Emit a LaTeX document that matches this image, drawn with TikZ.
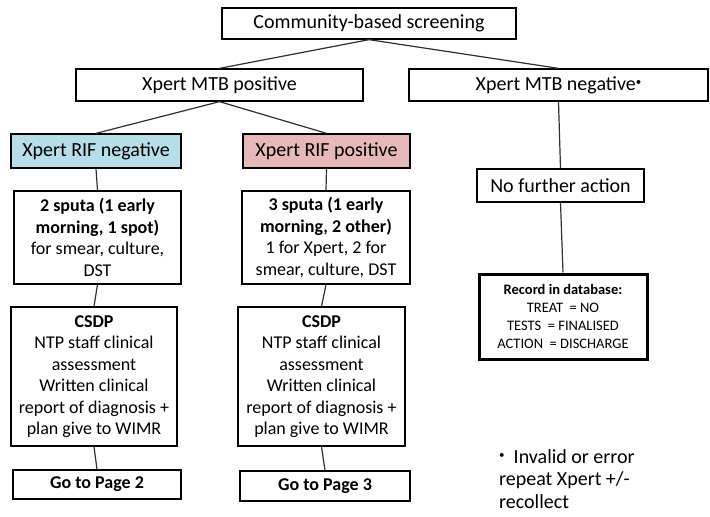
\documentclass[tikz,border=0pt]{standalone}
\usepackage{fontspec}
\setmainfont{Carlito}
\definecolor{rifneg}{HTML}{B7DEE8}
\definecolor{rifpos}{HTML}{E6B9B8}
\definecolor{edge}{HTML}{303030}
\newcommand{\smalldot}{{\fontsize{11}{11}\selectfont\raisebox{5pt}{•}}}
\begin{document}
\begin{tikzpicture}[x=1pt,y=-1pt,
  box/.style={draw=black, line width=1.3pt, inner sep=0pt, align=center, font=\fontsize{20}{24}\selectfont},
  midbox/.style={box, font=\fontsize{18}{21.5}\selectfont},
  recbox/.style={box, line width=3pt, font=\fontsize{14.5}{18}\selectfont},
  conn/.style={draw=edge, line width=1.2pt}]
\useasboundingbox (0,0) rectangle (710,517);

\node[box, minimum width=294pt, minimum height=31pt] (comm) at (369,23.5) {Community-based screening};
\node[box, minimum width=287pt, minimum height=32pt] (mtbp) at (219.5,85) {Xpert MTB positive};
\node[box, minimum width=299pt, minimum height=32pt] (mtbn) at (558.5,85) {Xpert MTB negative\smalldot};

\node[box, fill=rifneg, minimum width=170pt, minimum height=34pt] (rifn) at (96,151) {Xpert RIF negative};
\node[box, fill=rifpos, minimum width=167pt, minimum height=34pt] (rifp) at (326.5,151) {Xpert RIF positive};

\node[midbox, minimum width=167pt, minimum height=93pt] (sputn) at (97.5,237.5)
  {\textbf{2 sputa (1 early}\\\textbf{morning, 1 spot)}\\for smear, culture,\\DST};
\node[midbox, minimum width=168pt, minimum height=93pt] (sputp) at (326,237.5)
  {\textbf{3 sputa (1 early}\\\textbf{morning, 2 other)}\\1 for Xpert, 2 for\\smear, culture, DST};

\node[midbox, minimum width=166pt, minimum height=139pt] (csdpn) at (94,376.5)
  {\textbf{CSDP}\\NTP staff clinical\\assessment\\Written clinical\\report of diagnosis +\\plan give to WIMR};
\node[midbox, minimum width=167pt, minimum height=139pt] (csdpp) at (321.5,376.5)
  {\textbf{CSDP}\\NTP staff clinical\\assessment\\Written clinical\\report of diagnosis +\\plan give to WIMR};

\node[midbox, minimum width=168pt, minimum height=29pt] (go2) at (97,484.5) {\textbf{Go to Page 2}};
\node[midbox, minimum width=170pt, minimum height=30pt] (go3) at (325,486) {\textbf{Go to Page 3}};

\node[box, minimum width=167pt, minimum height=33pt] (nfa) at (560.5,185.5) {No further action};
\node[recbox, minimum width=168pt, minimum height=85pt] (rec) at (563,316.5)
  {\textbf{Record in database:}\\TREAT\ \ = NO\\TESTS\ \ = FINALISED\\ACTION\ \ = DISCHARGE};

\node[anchor=north west, align=left, inner sep=0pt, font=\fontsize{20}{22.5}\selectfont] (note) at (499,449)
  {\smalldot\ \ Invalid or error\\repeat Xpert +/-\\recollect};

\path[conn] (comm.south) -- (mtbp.north);
\path[conn] (comm.south) -- (mtbn.north);
\path[conn] (mtbp.south) -- (rifn.north);
\path[conn] (mtbp.south) -- (rifp.north);
\path[conn] (rifn.south) -- (sputn.north);
\path[conn] (rifp.south) -- (sputp.north);
\path[conn] (sputn.south) -- (csdpn.north);
\path[conn] (sputp.south) -- (csdpp.north);
\path[conn] (csdpn.south) -- (go2.north);
\path[conn] (csdpp.south) -- (go3.north);
\path[conn] (mtbn.south) -- (nfa.north);
\path[conn] (nfa.south) -- (rec.north);
\end{tikzpicture}
\end{document}
